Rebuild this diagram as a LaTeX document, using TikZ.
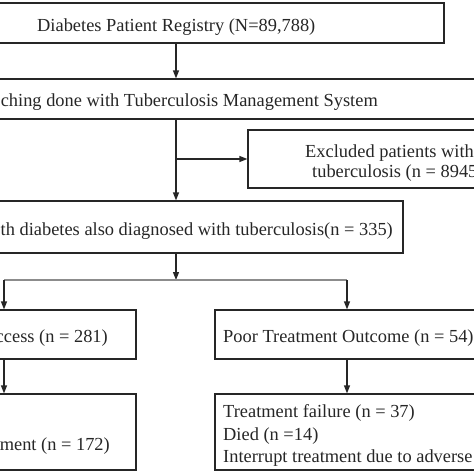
\documentclass[tikz,border=0pt]{standalone}
\usepackage{fontspec}
\setmainfont{Liberation Serif}
\usetikzlibrary{arrows.meta, positioning}

\begin{document}
\begin{tikzpicture}[x=1pt, y=-1pt,
            flowbox/.style={ rectangle, draw=black!85, line width=1.2pt, inner sep=0pt },
            flowtext/.style={ inner sep=0pt, text=black!85, font=\fontsize{18.4}{22}\selectfont },
            arrow/.style={ -{Triangle[length=8pt, width=6pt]}, line width=1.2pt, draw=black!85 }
        ]
            \useasboundingbox (0,0) rectangle (474,474);
            \clip (0,0) rectangle (474,474);

            % Boxes
            \node (registry) [flowbox, minimum width=504pt, minimum height=40pt] at (192,23) {};
            \node (matching) [flowbox, minimum width=600pt, minimum height=40pt] at (240,99) {};
            \node (excluded) [flowbox, minimum width=292pt, minimum height=58pt] at (394,159) {};
            \node (cohort) [flowbox, minimum width=463pt, minimum height=52pt] at (171.5,227) {};
            \node (success) [flowbox, minimum width=196pt, minimum height=49pt] at (38,334.5) {};
            \node (poor) [flowbox, minimum width=325pt, minimum height=49pt] at (377.5,334.5) {};
            \node (completed) [flowbox, minimum width=196pt, minimum height=76pt] at (38,432) {};
            \node (outcomes) [flowbox, minimum width=325pt, minimum height=76pt] at (377.5,432) {};

            % Texts
            \node (registrytext) [flowtext, anchor=base west] at (37,31) {Diabetes Patient Registry (N=89,788)};
            \node (matchingtext) [flowtext, anchor=base east] at (378,106) {ching done with Tuberculosis Management System};
            \node (excludedtexta) [flowtext, anchor=base west] at (305,157) {Excluded patients with};
            \node (excludedtextb) [flowtext, anchor=base west] at (312,177) {tuberculosis (n = 8945};
            \node (cohorttext) [flowtext, anchor=base east] at (393,235) {th diabetes also diagnosed with tuberculosis(n = 335)};
            \node (successtext) [flowtext, anchor=base east] at (108,342) {ccess (n = 281)};
            \node (poortext) [flowtext, anchor=base west] at (223,342) {Poor Treatment Outcome (n = 54)};
            \node (completedtext) [flowtext, anchor=base east] at (110,450) {ment (n = 172)};
            \node (failuretext) [flowtext, anchor=base west] at (223,417) {Treatment failure (n = 37)};
            \node (diedtext) [flowtext, anchor=base west] at (223,440) {Died (n =14)};
            \node (interrupttext) [flowtext, anchor=base west] at (223,462) {Interrupt treatment due to adverse};

            % Branch points
            \coordinate (spine) at (176,0);
            \coordinate (split) at (spine |- excluded.west);
            \coordinate (fork) at (176,280);
            \coordinate (lbranch) at (4,280);
            \coordinate (rbranch) at (347,280);

            % Arrows
            \draw[arrow] (registry.south -| spine) -- (matching.north -| spine);
            \draw[arrow] (matching.south -| spine) -- (cohort.north -| spine);
            \draw[arrow] (split) -- (excluded.west);
            \draw[arrow] (cohort.south -| spine) -- (fork);
            \draw[line width=1.2pt, draw=black!45] (lbranch) -- (rbranch);
            \draw[arrow] (lbranch) -- (lbranch |- success.north);
            \draw[arrow] (rbranch) -- (rbranch |- poor.north);
            \draw[arrow] (lbranch |- success.south) -- (lbranch |- completed.north);
            \draw[arrow] (rbranch |- poor.south) -- (rbranch |- outcomes.north);

        \end{tikzpicture}
\end{document}
